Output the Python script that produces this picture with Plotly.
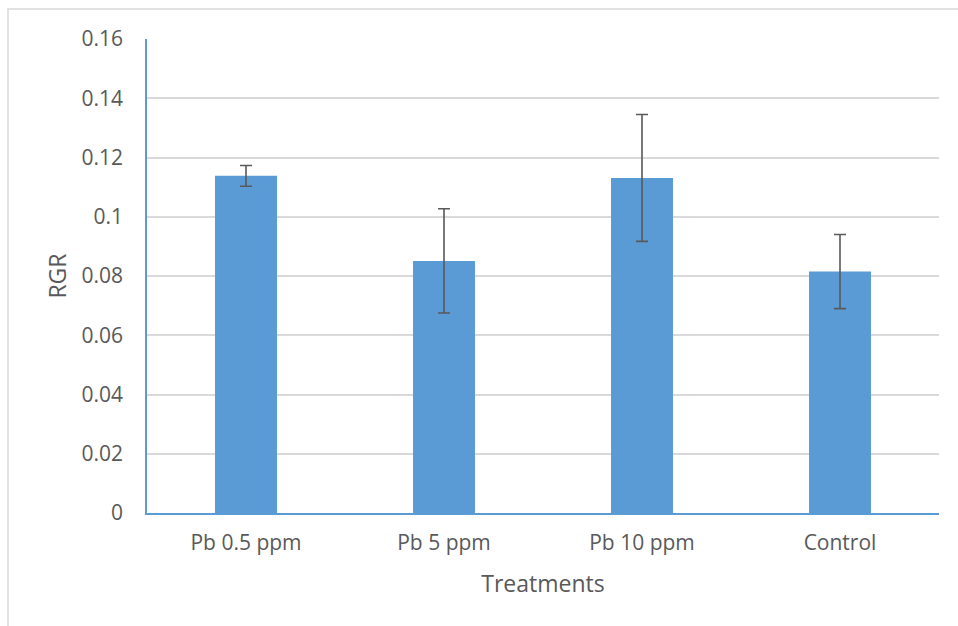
import plotly.graph_objects as go

categories = ["Pb 0.5 ppm", "Pb 5 ppm", "Pb 10 ppm", "Control"]
rgr = [0.1138, 0.0851, 0.1131, 0.0815]
err = [0.0035, 0.0176, 0.0214, 0.0125]
y_ticks = [0, 0.02, 0.04, 0.06, 0.08, 0.1, 0.12, 0.14, 0.16]
y_tick_labels = ["0", "0.02", "0.04", "0.06", "0.08", "0.1", "0.12", "0.14", "0.16"]

W, H = 958, 626
L, R, T, B = 147, 19, 39, 113
pw, ph = W - L - R, H - T - B

fig = go.Figure(go.Bar(
    x=categories, y=rgr,
    marker=dict(color="#5B9BD5", line=dict(width=0)),
    error_y=dict(type="data", array=err, visible=True, color="#595959", thickness=1.6, width=6),
))

font = "Open Sans, Liberation Sans, sans-serif"
fig.update_layout(
    width=W, height=H,
    margin=dict(l=L, r=R, t=T, b=B),
    paper_bgcolor="white", plot_bgcolor="white",
    bargap=0.687,
    showlegend=False,
    font=dict(family=font, color="#595959", size=21),
    xaxis=dict(
        showline=True, linecolor="#5B9BD5", linewidth=1.5,
        ticks="", showgrid=False, ticklabelstandoff=10,
        tickfont=dict(size=21, color="#595959"),
        title=dict(text="Treatments", font=dict(size=23, color="#595959"), standoff=21),
    ),
    yaxis=dict(
        range=[0, 0.16], tickvals=y_ticks, ticktext=y_tick_labels,
        showline=True, linecolor="#5B9BD5", linewidth=1.5,
        showgrid=True, gridcolor="#D9D9D9", gridwidth=1.5,
        zeroline=False, ticks="", ticklabelstandoff=18,
        tickfont=dict(size=21, color="#595959"),
        title=dict(text="RGR", font=dict(size=23, color="#595959"), standoff=8),
    ),
    shapes=[dict(
        type="rect", xref="paper", yref="paper",
        x0=(8 - L) / pw, x1=(W + 20 - L) / pw,
        y0=-(B + 20) / ph, y1=(ph + T - 9) / ph,
        line=dict(color="#D9D9D9", width=1.5), fillcolor="rgba(0,0,0,0)", layer="below",
    )],
)

fig.write_html("out.html", config={"displayModeBar": False},
               post_script="document.body.style.margin='0';document.body.style.overflow='hidden';")
